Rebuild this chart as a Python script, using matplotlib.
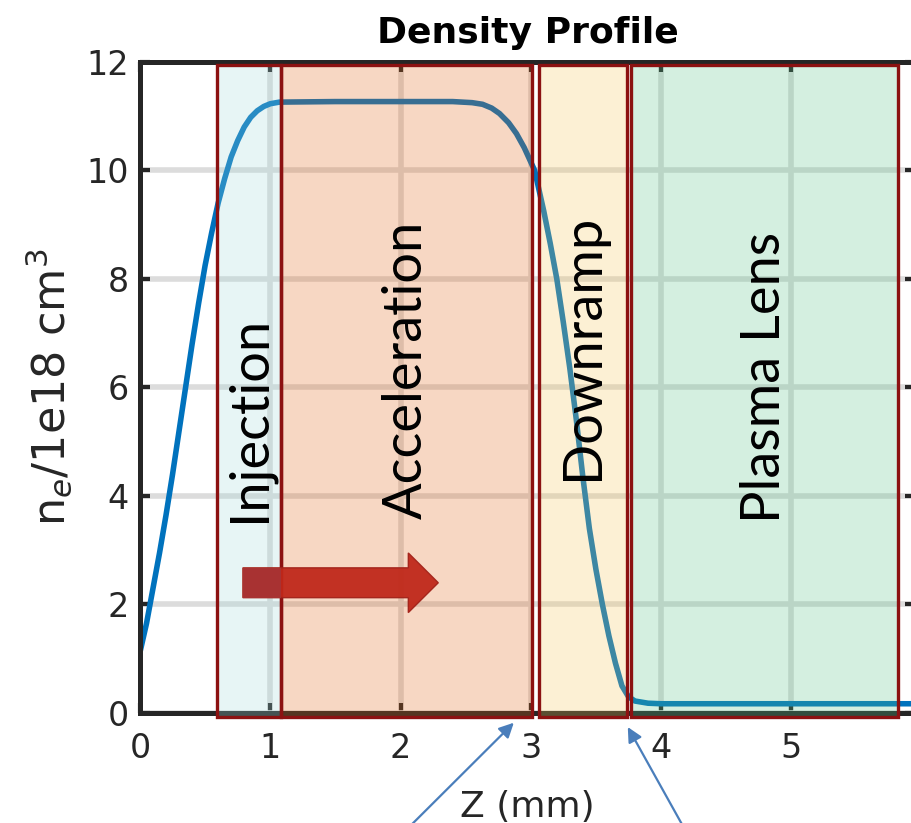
import matplotlib
matplotlib.use('Agg')
import matplotlib.pyplot as plt
from matplotlib.patches import Rectangle, FancyArrow

plt.rcParams['font.family'] = 'DejaVu Sans'
plt.rcParams['mathtext.fontset'] = 'dejavusans'

# density profile (z in mm, n_e in 1e18 cm^-3)
z = [0.00, 0.05, 0.10, 0.15, 0.20, 0.25, 0.30, 0.35, 0.40, 0.45, 0.50,
     0.55, 0.60, 0.65, 0.70, 0.75, 0.80, 0.85, 0.90, 0.95, 1.00, 1.07,
     1.50, 2.00, 2.40, 2.55, 2.63, 2.70, 2.76, 2.83, 2.89, 2.95, 3.03,
     3.10, 3.15, 3.20, 3.25, 3.30, 3.35, 3.40, 3.45, 3.50, 3.55, 3.60,
     3.65, 3.70, 3.75, 3.80, 3.90, 4.00, 4.50, 5.00, 5.50, 6.00]
ne = [1.12, 1.65, 2.30, 2.95, 3.65, 4.40, 5.20, 6.00, 6.80, 7.55, 8.25,
      8.85, 9.40, 9.85, 10.25, 10.55, 10.80, 10.98, 11.10, 11.18, 11.23, 11.26,
      11.27, 11.27, 11.27, 11.25, 11.22, 11.15, 11.05, 10.88, 10.68, 10.42, 10.00,
      9.25, 8.65, 8.00, 7.20, 6.35, 5.40, 4.35, 3.40, 2.65, 2.00, 1.42,
      0.92, 0.50, 0.30, 0.22, 0.18, 0.17, 0.17, 0.17, 0.17, 0.17]

# stages along z
stage_names = ['Injection', 'Acceleration', 'Downramp', 'Plasma Lens']
stage_start = [0.59, 1.08, 3.06, 3.77]
stage_end = [1.08, 3.01, 3.74, 5.82]
stage_colors = ['#a3dbdb', '#e36313', '#f7c757', '#57c387']
label_y = [5.42, 6.32, 6.75, 6.19]

# markers under the axis
marker_z = [2.87, 3.745]
marker_ne = [-0.18, -0.26]
marker_tail = [0.444, 0.752]

fig = plt.figure(figsize=(9.12, 8.23), dpi=100)
ax = fig.add_axes([0.1535, 0.1337, 0.8498, 0.7910])

ax.plot(z, ne, color='#0072bd', lw=4, zorder=2, solid_capstyle='butt')

for x0, x1, c in zip(stage_start, stage_end, stage_colors):
    ax.add_patch(Rectangle((x0, -0.08), x1 - x0, 12.02, facecolor=c,
                           alpha=0.25, edgecolor='none', zorder=3,
                           clip_on=False))
for x0, x1 in zip(stage_start, stage_end):
    ax.add_patch(Rectangle((x0, -0.08), x1 - x0, 12.02, facecolor='none',
                           edgecolor='#8c1111', lw=2.4, zorder=5,
                           clip_on=False))

for name, x0, x1, yl in zip(stage_names, stage_start, stage_end, label_y):
    ax.text((x0 + x1) / 2, yl, name, rotation=90, ha='center', va='center',
            fontsize=39, family='Lato', color='black', zorder=6)

ax.add_patch(FancyArrow(0.79, 2.40, 1.50, 0, width=0.55, head_width=1.1,
                        head_length=0.23, length_includes_head=True,
                        facecolor='#c0281a', edgecolor='#a3231a', lw=1,
                        alpha=0.95, zorder=6))
# darker tail where the arrow sits on the injection stage
ax.add_patch(Rectangle((0.79, 2.125), stage_start[1] - 0.79, 0.55,
                       facecolor='#a83232', edgecolor='none', zorder=6))

ax.set_xlim(0, 5.95)
ax.set_ylim(0, 12)
ax.set_xticks([0, 1, 2, 3, 4, 5])
ax.set_yticks([0, 2, 4, 6, 8, 10, 12])
ax.grid(True, color='#dcdcdc', lw=4, zorder=1)
ax.set_axisbelow(True)

for s in ['left', 'bottom', 'top']:
    ax.spines[s].set_linewidth(3.6)
    ax.spines[s].set_color('#262626')
ax.spines['right'].set_visible(False)
ax.tick_params(direction='in', length=7, width=3, colors='#262626',
               labelsize=24, top=True, right=True, pad=8)
ax.tick_params(axis='x', pad=14)

ax.set_xlabel('Z (mm)', fontsize=26, color='#262626', labelpad=18)
ax.set_ylabel('n$_e$/1e18 cm$^3$', fontsize=32, color='#262626', labelpad=8)
ax.set_title('Density Profile', fontsize=26, fontweight='bold', pad=14)

for mz, mn, tx in zip(marker_z, marker_ne, marker_tail):
    ax.annotate('', xy=(mz, mn), xycoords='data',
                xytext=(tx, -0.01), textcoords='figure fraction',
                arrowprops=dict(arrowstyle='-|>', color='#4a7ebb', lw=1.6,
                                mutation_scale=22, shrinkA=0, shrinkB=0),
                annotation_clip=False)

fig.savefig('out.png', dpi=100)
